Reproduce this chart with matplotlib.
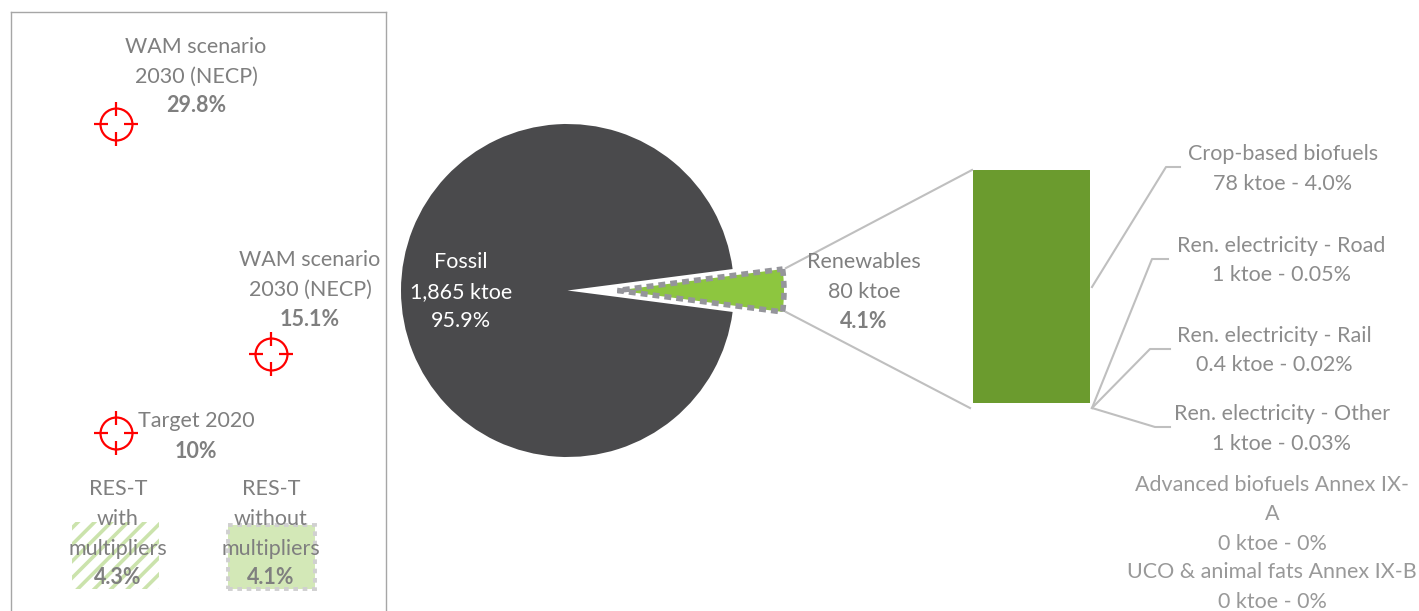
import matplotlib
matplotlib.use('Agg')
import matplotlib.pyplot as plt
from matplotlib.path import Path

plt.rcParams['font.family'] = ['Lato', 'DejaVu Sans']

# main pie
pie_names = ['Fossil', 'Renewables']
pie_ktoe = [1865, 80]
pie_share = ['95.9%', '4.1%']

# breakdown of the renewables bar
part_names = ['Crop-based biofuels', 'Ren. electricity - Road', 'Ren. electricity - Rail', 'Ren. electricity - Other']
part_ktoe = [78, 1, 0.4, 1]
part_labels = ['78 ktoe - 4.0%', '1 ktoe - 0.05%', '0.4 ktoe - 0.02%', '1 ktoe - 0.03%']

# left panel
res_names = ['with\nmultipliers', 'without\nmultipliers']
res_values = [4.3, 4.1]
target_x = [0, 1, 0]
target_values = [29.8, 15.1, 10]

DARK = '#4a4a4c'
GREEN = '#8dc63f'
BAR_GREEN = '#6b9b2e'
GREY = '#7f7f7f'
LINE = '#bfbfbf'
W, H = 1419, 611

fig = plt.figure(figsize=(W / 100, H / 100), dpi=100)

def px_axes(x0, y0, x1, y1):
    return fig.add_axes([x0 / W, 1 - y1 / H, (x1 - x0) / W, (y1 - y0) / H])

def label(ax, x, y, lines, color=GREY, bold_last=False, size=15.5):
    for i, (yy, s) in enumerate(zip(y, lines)):
        bold = bold_last and i == len(lines) - 1
        ax.text(x, yy + 1, s, color=color, fontsize=size, ha='center', va='center',
                fontweight='bold' if bold else 'normal')

# left panel, has its own value scale
left = px_axes(11, 12, 386, 611)
left.set_xlim(-0.675, 1.74)
left.set_ylim(-1.41, 37)
left.set_xticks([])
left.set_yticks([])
left.spines['bottom'].set_visible(False)
for s in ['left', 'right', 'top']:
    left.spines[s].set_color('#a6a6a6')
    left.spines[s].set_linewidth(1.0)

plt.rcParams['hatch.linewidth'] = 2.6
left.bar(0, res_values[0], 0.56, facecolor='white', edgecolor='#cbe3ac', hatch='//', linewidth=0)
left.bar(1, res_values[1], 0.56, facecolor='#d3e8b7', edgecolor='#d0d0d0', linewidth=2.8, linestyle=(0, (1.2, 1.2)))

ticks = Path([(-1, 0), (-0.36, 0), (0.36, 0), (1, 0), (0, -1), (0, -0.36), (0, 0.36), (0, 1)],
             [Path.MOVETO, Path.LINETO] * 4)
left.plot(target_x, target_values, ls='none', marker='o', ms=23, mfc='none', mec='#ff0000', mew=1.6)
left.plot(target_x, target_values, ls='none', marker=ticks, ms=31.5, mfc='none', mec='#ff0000', mew=1.6)

# renewables bar
bar_ax = px_axes(973, 170, 1090, 403)
bar_ax.set_xlim(-0.5, 0.5)
bar_ax.set_ylim(0, sum(part_ktoe))
bar_ax.axis('off')
bottom = 0
for v in part_ktoe:
    bar_ax.bar(0, v, 1.0, bottom=bottom, color=BAR_GREEN)
    bottom += v

# pie and all text, pixel coordinates
ax = px_axes(0, 0, W, H)
ax.set_zorder(5)
wedges, _ = ax.pie(pie_ktoe, explode=[0, 50], center=(567.5, 290.5), radius=166.5,
                   startangle=180 * pie_ktoe[1] / sum(pie_ktoe), colors=[DARK, GREEN], frame=True)
wedges[1].set(edgecolor='#95959b', linewidth=4, linestyle=(0, (1.25, 0.9)))
ax.set_xlim(0, W)
ax.set_ylim(H, 0)
ax.axis('off')

# connector and leader lines
leaders = [([786, 972], [268, 170]), ([786, 970], [312, 408]),
           ([1092, 1166, 1180], [287, 167, 167]), ([1092, 1152, 1168], [408, 259, 259]),
           ([1092, 1150, 1170], [408, 349, 349]), ([1092, 1155, 1170], [408, 427, 427])]
for xs, ys in leaders:
    ax.plot(xs, ys, color=LINE, lw=1.5, zorder=1)

label(ax, 196, [46, 76, 105], ['WAM scenario', '2030 (NECP)', f'{target_values[0]}%'], bold_last=True)
label(ax, 310, [259, 289, 318], ['WAM scenario', '2030 (NECP)', f'{target_values[1]}%'], bold_last=True)
label(ax, 196, [420, 450], ['Target 2020', f'{target_values[2]:.0f}%'], bold_last=True)
for cx, name, v in zip([118, 271], res_names, res_values):
    label(ax, cx, [488, 518, 548, 577], ['RES-T'] + name.split('\n') + [f'{v}%'], bold_last=True)

label(ax, 461, [261, 291, 320], [pie_names[0], f'{pie_ktoe[0]:,} ktoe', pie_share[0]], color='white')
label(ax, 864, [261, 291, 320], [pie_names[1], f'{pie_ktoe[1]} ktoe', pie_share[1]], bold_last=True)

part_x = [1283, 1281, 1274, 1282]
part_y = [[153, 183], [245, 274], [335, 364], [413, 443]]
for cx, yy, n, l in zip(part_x, part_y, part_names, part_labels):
    label(ax, cx, yy, [n, l], color='#8c8c8c')

label(ax, 1272, [484, 513, 543], ['Advanced biofuels Annex IX-', 'A', '0 ktoe - 0%'], color='#999999')
label(ax, 1272, [571, 601], ['UCO & animal fats Annex IX-B', '0 ktoe - 0%'], color='#999999')

fig.savefig('out.png', dpi=100)
